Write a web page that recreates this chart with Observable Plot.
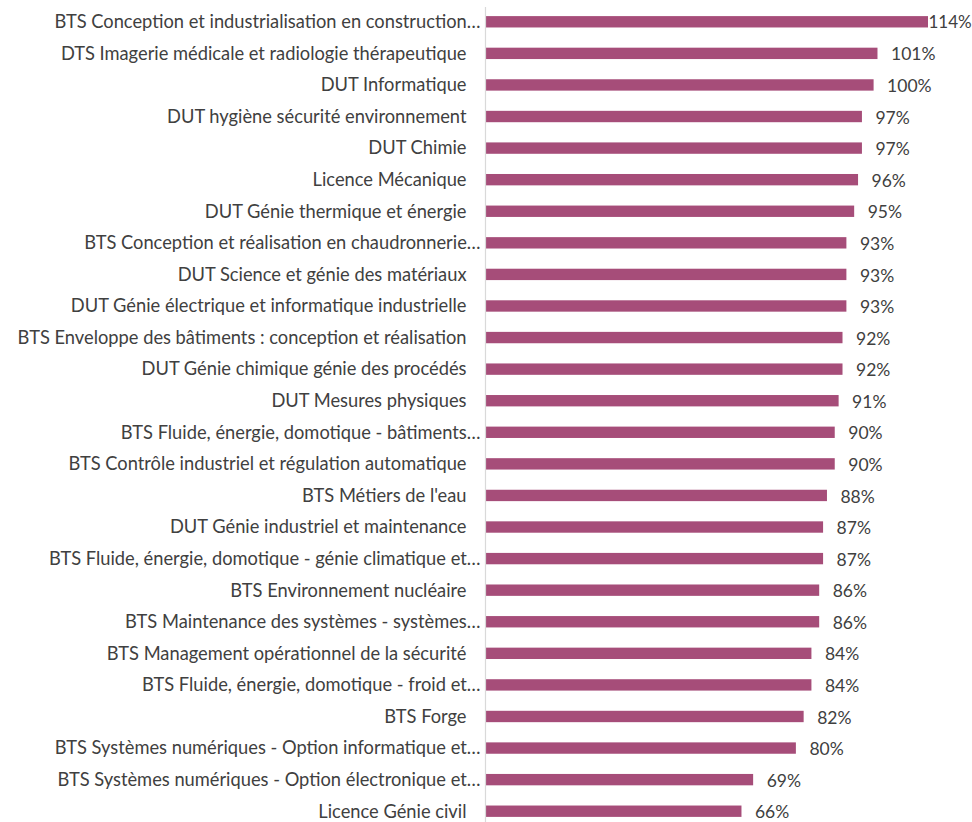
<!DOCTYPE html>
<html>
<head>
<meta charset="utf-8">
<script src="https://cdn.jsdelivr.net/npm/d3@7"></script>
<script src="https://cdn.jsdelivr.net/npm/@observablehq/plot@0.6"></script>
<style>
  html, body { margin: 0; padding: 0; background: #fff; }
  #chart svg { display: block; }
</style>
</head>
<body>
<div id="chart"></div>
<script>
const categories = [
  "BTS Conception et industrialisation en construction…",
  "DTS Imagerie médicale et radiologie thérapeutique",
  "DUT Informatique",
  "DUT hygiène sécurité environnement",
  "DUT Chimie",
  "Licence Mécanique",
  "DUT Génie thermique et énergie",
  "BTS Conception et réalisation en chaudronnerie…",
  "DUT Science et génie des matériaux",
  "DUT Génie électrique et informatique industrielle",
  "BTS Enveloppe des bâtiments : conception et réalisation",
  "DUT Génie chimique génie des procédés",
  "DUT Mesures physiques",
  "BTS Fluide, énergie, domotique - bâtiments…",
  "BTS Contrôle industriel et régulation automatique",
  "BTS Métiers de l'eau",
  "DUT Génie industriel et maintenance",
  "BTS Fluide, énergie, domotique - génie climatique et…",
  "BTS Environnement nucléaire",
  "BTS Maintenance des systèmes - systèmes…",
  "BTS Management opérationnel de la sécurité",
  "BTS Fluide, énergie, domotique - froid et…",
  "BTS Forge",
  "BTS Systèmes numériques - Option informatique et…",
  "BTS Systèmes numériques - Option électronique et…",
  "Licence Génie civil"
];
const values = [114, 101, 100, 97, 97, 96, 95, 93, 93, 93, 92, 92, 91, 90, 90, 88, 87, 87, 86, 86, 84, 84, 82, 80, 69, 66];

const rows = categories.map((c, i) => ({category: c, value: values[i], truncated: c.endsWith("…")}));
const maxValue = d3.max(values);

const font = "Lato, 'Noto Sans', sans-serif";
const textColor = "#404040";
const barColor = "#a64d79";

const chart = Plot.plot({
  width: 972,
  height: 822,
  marginLeft: 485,
  marginRight: 44,
  marginTop: 7,
  marginBottom: 0,
  style: {fontFamily: font, background: "#fff"},
  x: {domain: [0, maxValue], axis: null},
  y: {domain: categories, range: [6, 827], paddingInner: 0.64, paddingOuter: 0.32, align: 0.5, round: false, axis: null},
  marks: [
    Plot.barX(rows, {x: "value", y: "category", fill: barColor}),
    Plot.ruleX([0], {stroke: "#d9d9d9", strokeWidth: 1.2}),
    Plot.text(rows.filter(d => !d.truncated), {
      y: "category", text: "category", frameAnchor: "left", textAnchor: "end",
      dx: -19, fontSize: 18.3, fill: textColor
    }),
    Plot.text(rows.filter(d => d.truncated), {
      y: "category", text: "category", frameAnchor: "left", textAnchor: "end",
      dx: -5, fontSize: 18.3, fill: textColor
    }),
    Plot.text(rows.filter(d => d.value < maxValue), {
      x: "value", y: "category", text: d => d.value + "%", textAnchor: "start",
      dx: 13, dy: 1, fontSize: 17.5, fill: textColor
    }),
    Plot.text(rows.filter(d => d.value === maxValue), {
      x: "value", y: "category", text: d => d.value + "%", textAnchor: "start",
      dx: 0, dy: 0, fontSize: 17, fill: textColor
    })
  ]
});
document.getElementById("chart").append(chart);
</script>
</body>
</html>
